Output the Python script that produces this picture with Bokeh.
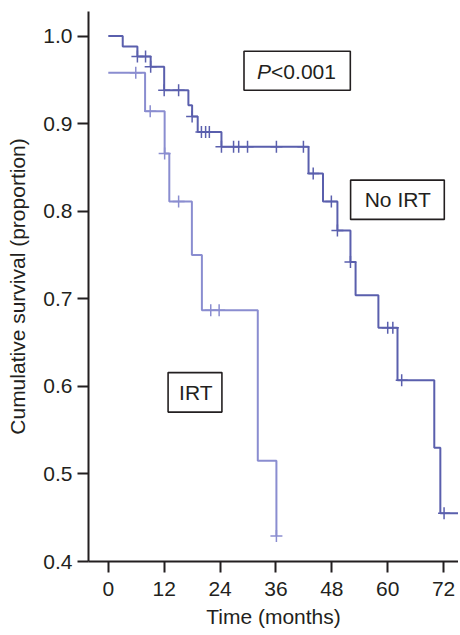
from bokeh.plotting import figure
from bokeh.models import FixedTicker, NumeralTickFormatter, Label, BoxAnnotation, Range1d
from bokeh.embed import file_html
from bokeh.resources import INLINE

# ---- data ----
no_irt_time = [0, 3.1, 6.25, 9.1, 12.0, 17.2, 18.0, 19.2, 24.3, 43.0, 46.1, 49.2, 52.0, 53.1, 58.0, 62.1, 70.0, 71.3, 76.0]
no_irt_surv = [1.0, 0.988, 0.9765, 0.965, 0.938, 0.921, 0.908, 0.8905, 0.8735, 0.843, 0.811, 0.778, 0.742, 0.704, 0.667, 0.607, 0.530, 0.455, 0.455]
no_irt_cens_time = [6.25, 8.0, 9.1, 12.0, 15.1, 18.0, 20.0, 20.9, 21.7, 24.3, 26.9, 28.0, 29.9, 36.1, 41.9, 44.0, 47.9, 49.2, 52.0, 60.0, 61.1, 63.0, 72.1]
no_irt_cens_surv = [0.9765, 0.9765, 0.965, 0.938, 0.938, 0.908, 0.8905, 0.8905, 0.8905, 0.8735, 0.8735, 0.8735, 0.8735, 0.8735, 0.8735, 0.843, 0.811, 0.778, 0.742, 0.667, 0.667, 0.607, 0.455]

irt_time = [0, 7.9, 12.1, 13.1, 17.95, 20.1, 32.1, 36.1]
irt_surv = [0.958, 0.914, 0.866, 0.811, 0.750, 0.687, 0.515, 0.429]
irt_cens_time = [5.9, 9.0, 12.1, 15.1, 22.0, 23.8, 36.1]
irt_cens_surv = [0.958, 0.914, 0.866, 0.811, 0.687, 0.687, 0.429]

x_ticks = [0, 12, 24, 36, 48, 60, 72]
y_ticks = [0.4, 0.5, 0.6, 0.7, 0.8, 0.9, 1.0]

NO_IRT_COLOR = "#5a5fad"
IRT_COLOR = "#8a8dd0"
TEXT = "#231f20"
FONT = "Liberation Sans"

p = figure(width=458, height=630, output_backend="svg", toolbar_location=None,
           x_range=Range1d(-4.25, 75.2), y_range=Range1d(0.4, 1.028),
           min_border_left=88, min_border_right=0, min_border_top=11, min_border_bottom=68)
p.outline_line_color = None
p.grid.visible = False

p.step(no_irt_time, no_irt_surv, mode="after", line_width=2, line_color=NO_IRT_COLOR)
p.scatter(no_irt_cens_time, no_irt_cens_surv, marker="cross", size=12, line_width=1.5, line_color=NO_IRT_COLOR)
p.step(irt_time, irt_surv, mode="after", line_width=2, line_color=IRT_COLOR)
p.scatter(irt_cens_time, irt_cens_surv, marker="cross", size=12, line_width=1.5, line_color=IRT_COLOR)

for ax in (p.xaxis[0], p.yaxis[0]):
    ax.axis_line_width = 2
    ax.axis_line_color = TEXT
    ax.major_tick_line_color = TEXT
    ax.major_tick_line_width = 2
    ax.major_tick_in = 0
    ax.major_tick_out = 11
    ax.minor_tick_line_color = None
    ax.major_label_text_font = FONT
    ax.major_label_text_font_size = "21px"
    ax.major_label_text_color = TEXT
    ax.axis_label_text_font = FONT
    ax.axis_label_text_font_size = "21px"
    ax.axis_label_text_font_style = "normal"
    ax.axis_label_text_color = TEXT

p.xaxis.ticker = FixedTicker(ticks=x_ticks)
p.yaxis.ticker = FixedTicker(ticks=y_ticks)
p.yaxis.formatter = NumeralTickFormatter(format="0.0")
p.xaxis.axis_label = "Time (months)"
p.yaxis.axis_label = "Cumulative survival (proportion)"
p.xaxis.major_label_standoff = 9
p.xaxis.axis_label_standoff = 6
p.yaxis.major_label_standoff = 5
p.yaxis.axis_label_standoff = 11

box_style = dict(fill_color="white", fill_alpha=1, line_color=TEXT, line_alpha=1, line_width=1.6)
p.add_layout(BoxAnnotation(left=29.14, right=51.97, bottom=0.9381, top=0.9826, **box_style))
p.add_layout(BoxAnnotation(left=52.03, right=72.15, bottom=0.7906, top=0.8355, **box_style))
p.add_layout(BoxAnnotation(left=12.84, right=24.4, bottom=0.5706, top=0.6157, **box_style))

p.add_layout(Label(x=31.94, y=0.9598, text="P", text_font=FONT, text_font_size="21px",
                   text_font_style="italic", text_color=TEXT, text_align="left", text_baseline="middle"))
p.add_layout(Label(x=34.96, y=0.9598, text="<0.001", text_font=FONT, text_font_size="21px",
                   text_color=TEXT, text_align="left", text_baseline="middle"))
p.add_layout(Label(x=62.16, y=0.813, text="No IRT", text_font=FONT, text_font_size="21px",
                   text_color=TEXT, text_align="center", text_baseline="middle"))
p.add_layout(Label(x=18.8, y=0.5932, text="IRT", text_font=FONT, text_font_size="21px",
                   text_color=TEXT, text_align="center", text_baseline="middle"))

open("out.html", "w").write(file_html(p, INLINE))
